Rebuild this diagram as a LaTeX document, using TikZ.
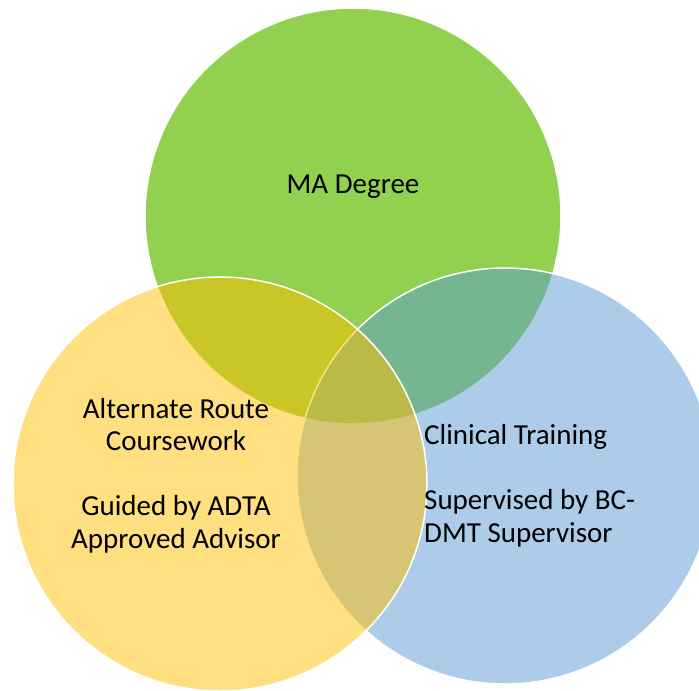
\documentclass[tikz,border=0pt]{standalone}
\usepackage{fontspec}
\setmainfont{Carlito}
\definecolor{cgreen}{HTML}{92D050}
\definecolor{cblue}{HTML}{5B9BD5}
\definecolor{cyellow}{HTML}{FFC000}
\begin{document}
\begin{tikzpicture}[x=1bp,y=-1bp,
  venn/.style={draw=white, line width=1.5bp},
  lbl/.style={inner sep=0pt, text=black, font=\fontsize{29bp}{32.5bp}\selectfont}]
\useasboundingbox (0,0) rectangle (699,691);
\clip (0,0) rectangle (699,691);
\fill[white] (0,0) rectangle (699,691);
\path[venn, fill=cgreen] (353,216) circle[radius=208bp];
\path[venn, fill=cblue, fill opacity=0.5] (505,476) circle[radius=208bp];
\path[venn, fill=cyellow, fill opacity=0.5] (220,484) circle[radius=207bp];
\node[lbl, anchor=base] (ma) at (353,193) {MA Degree};
\node[lbl, anchor=base, align=center] (alt) at (176,548) {Alternate Route\\Coursework\\[32.5bp]Guided by ADTA\\Approved Advisor};
\node[lbl, anchor=base west, align=left] (clin) at (424,542) {Clinical Training\\[33bp]Supervised by BC-\\DMT Supervisor};
\end{tikzpicture}
\end{document}
